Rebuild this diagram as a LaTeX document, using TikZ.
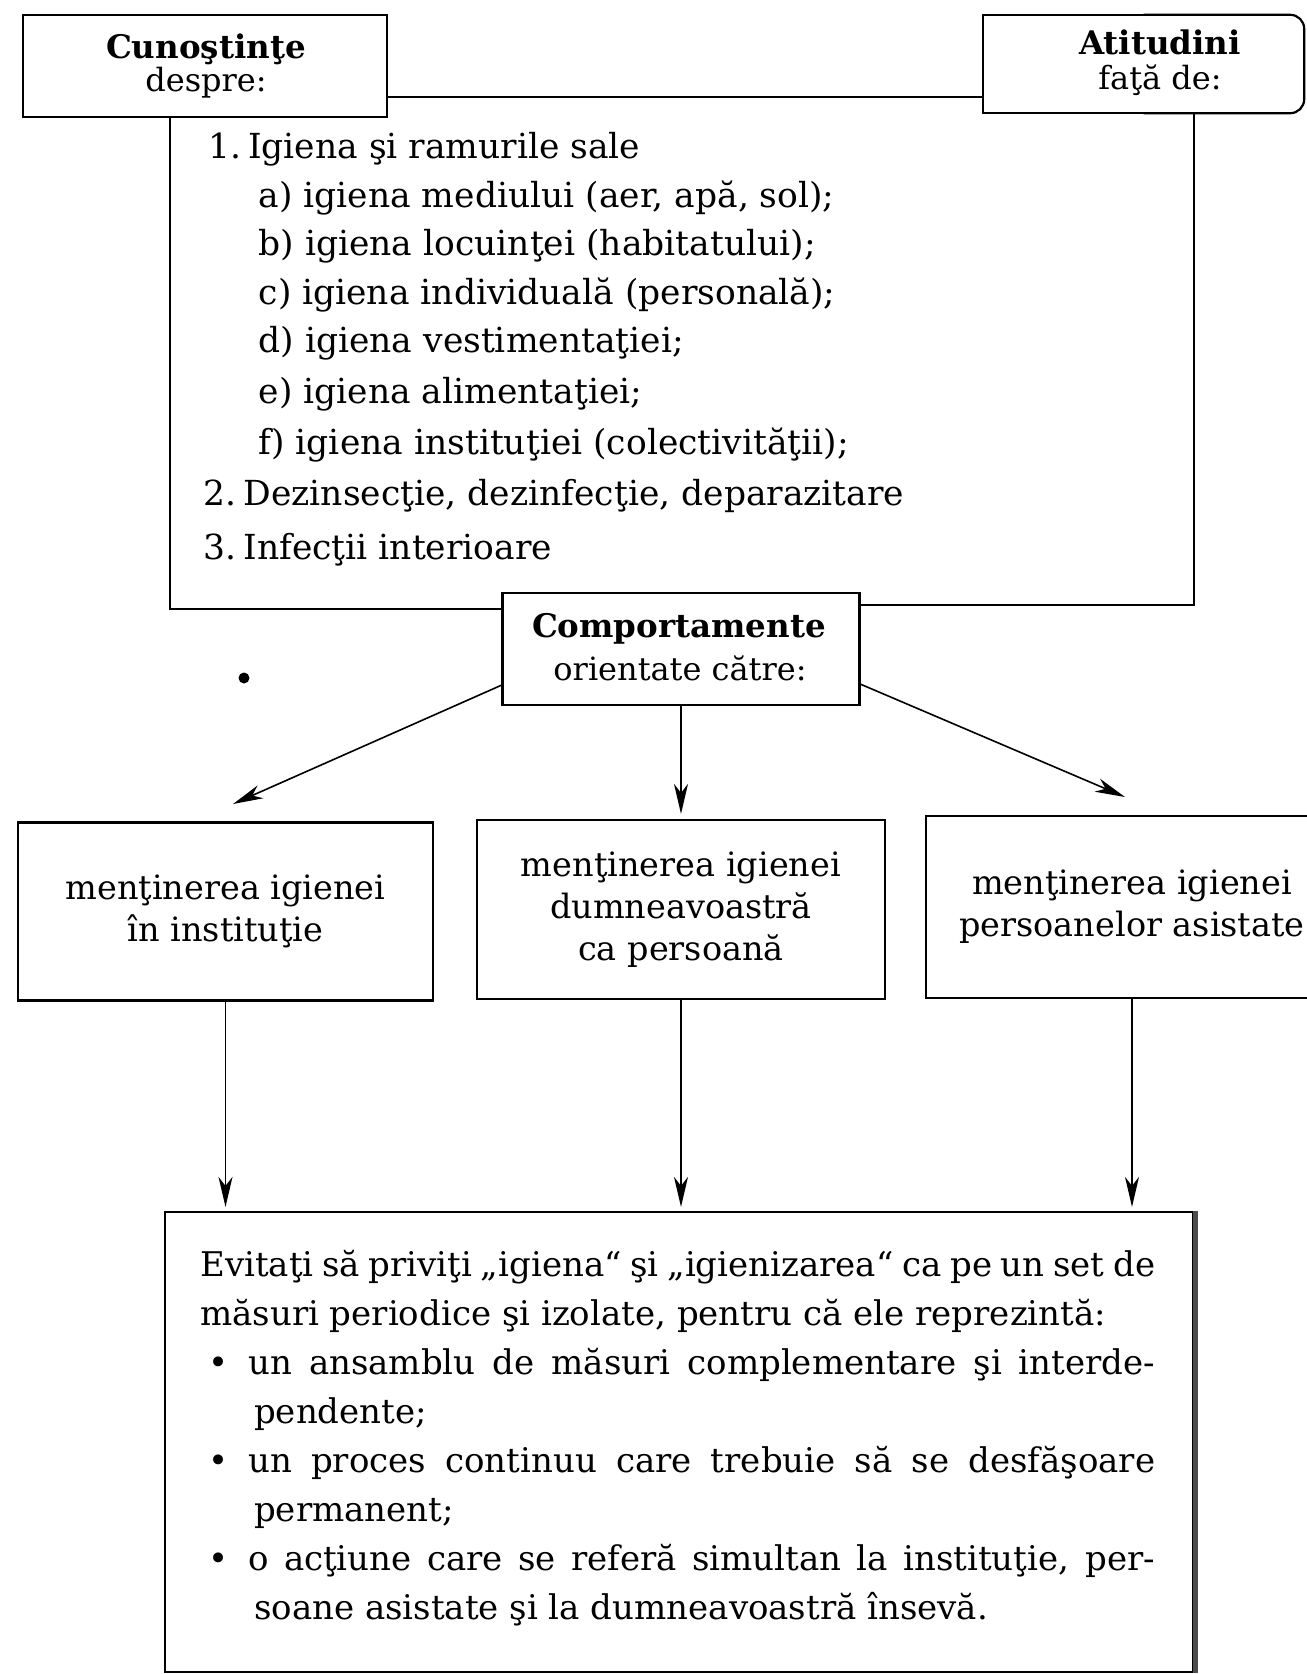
\documentclass[tikz,border=0pt]{standalone}
\usepackage{fontspec}
\setmainfont{DejaVu Serif}
\usetikzlibrary{arrows.meta}
\newcommand\fsHead{\fontsize{32.5}{38}\selectfont\bfseries}
\newcommand\fsSub{\fontsize{32}{38}\selectfont}
\newcommand\fsList{\fontsize{34.5}{49.5}\selectfont}
\newcommand\fsBox{\fontsize{33.5}{42}\selectfont}
\newcommand\fsNote{\fontsize{34}{49}\selectfont}
\newcommand\numgap{\hspace{7pt}}
\begin{document}
\begin{tikzpicture}[x=1pt,y=-1pt,
  frame/.style={draw, line width=2.2pt},
  frameline/.style={line width=2pt},
  link/.style={line width=1.5pt},
  arrowlink/.style={line width=1.6pt, -{Stealth[length=30pt,width=14pt,inset=9pt]}},
  head/.style={inner sep=0pt, anchor=base, font=\fsHead},
  sub/.style={inner sep=0pt, anchor=base, font=\fsSub},
  listline/.style={inner sep=0pt, anchor=base west, font=\fsList},
  noteline/.style={inner sep=0pt, anchor=base west, font=\fsNote},
  topic/.style={frame, inner sep=0pt, align=center, font=\fsBox},
]
\useasboundingbox (0,0) rectangle (1307,1674);
\fill[white] (0,0) rectangle (1307,1674);

% helper coordinates
\coordinate (ytop) at (0,97);
\coordinate (kl) at (170,609);
\coordinate (kr) at (1194,605);
\coordinate (edge) at (1307,0);
\coordinate (tipA) at (233,804);
\coordinate (tipC) at (1125,797);

% header boxes
\node[frame, inner sep=0pt, minimum width=364pt, minimum height=102pt] (cun) at (205,66) {};
\node[head] (cunT) at (206,58) {Cunoştinţe};
\node[sub] (cunS) at (206,91) {despre:};

\node[inner sep=0pt, minimum width=321pt, minimum height=98pt] (att) at (1143.5,64) {};
\draw[frame] (att.north) -- (att.north west) -- (att.south west) -- (att.south);
\draw[frame, rounded corners=14pt] (att.north) -- (att.north east) -- (att.south east) -- (att.south);
\node[head] (attT) at (1160,54) {Atitudini};
\node[sub] (attS) at (1160,89) {faţă de:};

\draw[link] (cun.east |- ytop) -- (att.west |- ytop);

% central box
\node[frame, line width=2.6pt, inner sep=0pt, minimum width=357pt, minimum height=112pt] (comp) at (681,649) {};
\node[head] (compT) at (679,637) {Comportamente};
\node[sub] (compS) at (680,680) {orientate către:};

% knowledge frame
\draw[frameline] (kl |- cun.south) -- (kl) -- (comp.west |- kl);
\draw[frameline] (kr |- att.south) -- (kr) -- (comp.east |- kr);

\node[listline] (k1) at (208,158.5) {1.\numgap Igiena şi ramurile sale};
\node[listline] (k2) at (258.5,207.6) {a) igiena mediului (aer, apă, sol);};
\node[listline] (k3) at (258.5,255.7) {b) igiena locuinţei (habitatului);};
\node[listline] (k4) at (258.5,304.8) {c) igiena individuală (personală);};
\node[listline] (k5) at (258.5,352.8) {d) igiena vestimentaţiei;};
\node[listline] (k6) at (258.5,403) {e) igiena alimentaţiei;};
\node[listline] (k7) at (258.5,454.3) {f) igiena instituţiei (colectivităţii);};
\node[listline] (k8) at (203.5,505.5) {2.\numgap Dezinsecţie, dezinfecţie, deparazitare};
\node[listline] (k9) at (203.5,559) {3.\numgap Infecţii interioare};

\fill (244,678) circle (5.5pt);

% three targets
\node[topic, minimum width=415pt, minimum height=178pt] (boxA) at (225.5,911.5) {menţinerea igienei\\în instituţie};
\node[topic, minimum width=408pt, minimum height=179pt] (boxB) at (681,909.5) {menţinerea igienei\\dumneavoastră\\ca persoană};
\node[topic, draw=none, minimum width=409pt, minimum height=180pt] (boxC) at (1132,906.7) {menţinerea igienei\\persoanelor asistate};
\draw[frameline] (edge |- boxC.north) -- (boxC.north west) -- (boxC.south west) -- (edge |- boxC.south);

\draw[arrowlink] ([yshift=21pt]comp.south west) -- (tipA);
\draw[arrowlink] (comp.south) -- ([yshift=5pt]boxB.north);
\draw[arrowlink] ([yshift=22pt]comp.south east) -- (tipC);

% advice box
\node[frame, inner sep=0pt, minimum width=1028pt, minimum height=460pt] (note) at (679,1442) {};
\draw[line width=5pt, black!70] ([xshift=1pt]note.north east) -- ([xshift=1pt]note.south east);

\draw[arrowlink, shorten >=4pt] (boxA.south) -- (boxA.south |- note.north);
\draw[arrowlink, shorten >=4pt] (boxB.south) -- (boxB.south |- note.north);
\draw[arrowlink, shorten >=4pt] (boxC.south) -- (boxC.south |- note.north);

\node[noteline] (n1) at (200,1276) {\makebox[955pt][s]{Evitaţi să priviţi „igiena“ şi „igienizarea“ ca pe un set de}};
\node[noteline] (n2) at (200,1325) {măsuri periodice şi izolate, pentru că ele reprezintă:};
\node[noteline] (n3) at (208,1374) {\makebox[40pt][l]{\textbullet}\makebox[907pt][s]{un ansamblu de măsuri complementare şi interde-}};
\node[noteline] (n4) at (254,1423) {pendente;};
\node[noteline] (n5) at (208,1472) {\makebox[40pt][l]{\textbullet}\makebox[907pt][s]{un proces continuu care trebuie să se desfăşoare}};
\node[noteline] (n6) at (254,1521) {permanent;};
\node[noteline] (n7) at (208,1570) {\makebox[40pt][l]{\textbullet}\makebox[907pt][s]{o acţiune care se referă simultan la instituţie, per-}};
\node[noteline] (n8) at (254,1619) {soane asistate şi la dumneavoastră însevă.};
\end{tikzpicture}
\end{document}
